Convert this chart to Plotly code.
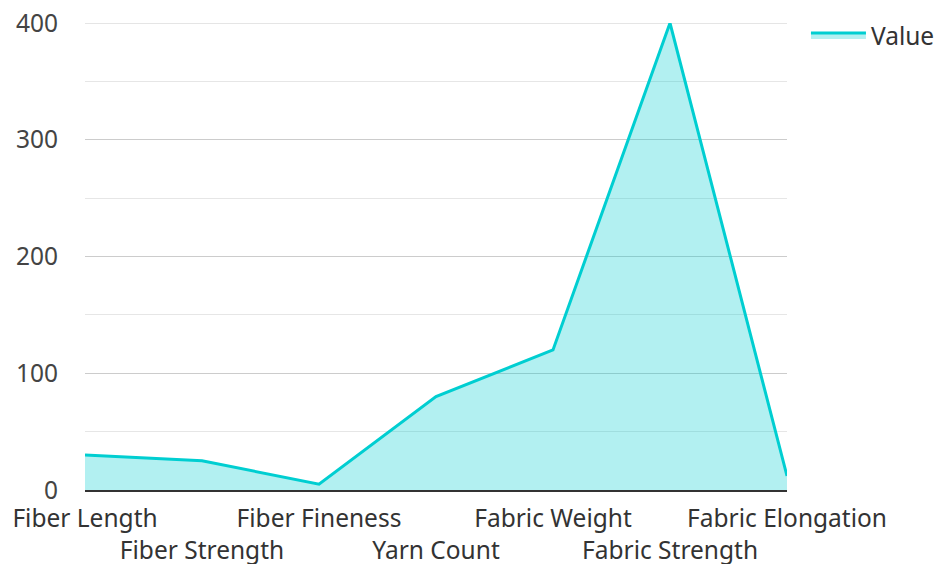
import plotly.graph_objects as go

categories = ["Fiber Length", "Fiber Strength", "Fiber Fineness", "Yarn Count",
              "Fabric Weight", "Fabric Strength", "Fabric Elongation"]
values = [30, 25, 5, 80, 120, 400, 12]
series_name = "Value"
y_ticks = [0, 100, 200, 300, 400]

tick_text = [c if i % 2 == 0 else "<br>" + c for i, c in enumerate(categories)]

FS = 24.5

fig = go.Figure()
fig.add_trace(go.Scatter(
    x=categories, y=values, name=series_name, mode="lines",
    line=dict(color="#00CED1", width=3),
    fill="tozeroy", fillcolor="rgba(0,206,209,0.3)",
))

# top grid line (Plotly omits the gridline at the range end)
fig.add_shape(type="line", xref="x domain", yref="y", x0=0, x1=1,
              y0=y_ticks[-1], y1=y_ticks[-1], layer="below",
              line=dict(color="#cccccc", width=1))

fig.update_layout(
    width=936, height=564,
    margin=dict(l=85, r=149, t=23, b=74, autoexpand=False),
    paper_bgcolor="white", plot_bgcolor="white",
    font=dict(family="Noto Sans", size=FS, color="#333"),
    showlegend=True,
    legend=dict(x=1.027, y=0.974, xanchor="left", yanchor="middle", itemwidth=55,
                font=dict(size=FS, color="#333"), bgcolor="rgba(0,0,0,0)"),
)
fig.update_xaxes(
    type="category", range=[0, len(categories) - 1], automargin=False,
    tickmode="array", tickvals=categories, ticktext=tick_text,
    tickangle=0, showgrid=False, showline=True, linecolor="#333", linewidth=2,
    ticks="", tickfont=dict(size=FS, color="#333"), zeroline=False,
    ticklabelstandoff=6, ticklabeloverflow="allow",
)
fig.update_yaxes(
    range=[0, 400], tickmode="array", tickvals=y_ticks, automargin=False,
    showgrid=True, gridcolor="#cccccc", gridwidth=1,
    minor=dict(dtick=50, showgrid=True, gridcolor="#e6e6e6", gridwidth=1),
    zeroline=False, showline=False, ticks="",
    tickfont=dict(size=FS, color="#444"), ticklabelstandoff=26,
    ticklabeloverflow="allow",
)

fig.write_html(
    "out.html",
    config={"displayModeBar": False},
    post_script="document.body.style.margin='0';document.body.style.overflow='hidden';",
)
